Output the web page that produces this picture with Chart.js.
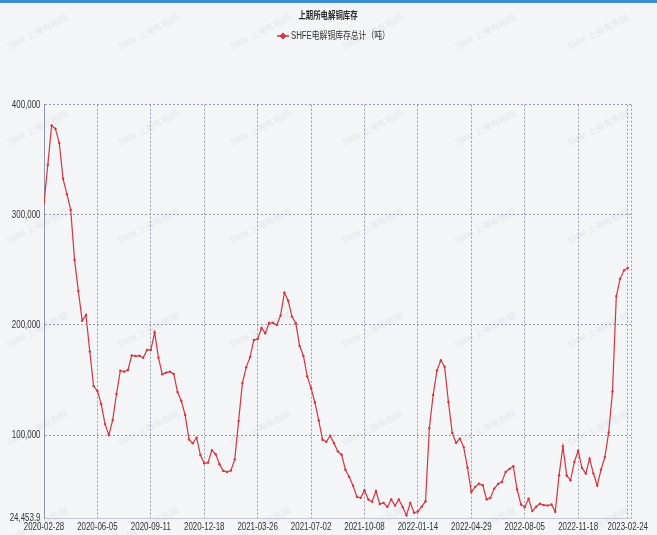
<!DOCTYPE html>
<html>
<head>
<meta charset="utf-8">
<script src="https://cdn.jsdelivr.net/npm/chart.js@4/dist/chart.umd.min.js"></script>
<style>
  html, body { margin: 0; padding: 0; background: #f4f5f7; }
  #wrap { width: 657px; height: 535px; position: relative; }
</style>
</head>
<body>
<div id="wrap"><canvas id="c" width="657" height="535"></canvas></div>
<script>
// ---- data ----
const chartTitle = '上期所电解铜库存';
const seriesName = 'SHFE电解铜库存总计（吨）';
const tickLabels = ['2020-02-28','2020-06-05','2020-09-11','2020-12-18','2021-03-26','2021-07-02',
                    '2021-10-08','2022-01-14','2022-04-29','2022-08-05','2022-11-18','2023-02-24'];
const tickIndex = [0,14,28,42,56,70,84,98,112,126,140,153];
const yTicks = [24453.9, 100000, 200000, 300000, 400000];
const inventory = [
  310600,345500,381200,378200,365200,332700,318800,304500,259100,230900,
  203900,209100,175800,144500,140000,128200,110000,100000,113600,137300,
  158500,157600,159100,172400,171800,172100,170300,177300,177300,193300,
  170300,155200,156700,157600,155500,139100,130900,118200,96100,92500,
  97600,81900,74400,75000,86400,82500,73500,67500,66600,67800,
  78000,112700,147300,161700,170800,186400,187300,197300,192500,201800,
  202000,200000,208500,229300,222000,207600,201500,181000,171900,153200,
  142600,129600,113300,95800,94000,99400,92700,85200,82200,68600,
  61900,54100,44000,43000,50000,41500,39500,49200,37500,38500,
  34800,41500,36000,41500,34700,27171,38500,29500,30600,35100,
  40000,106500,136500,158800,168000,162000,130000,102000,93000,96800,
  89100,70300,48300,53000,55800,54500,41600,43000,51400,55700,
  57500,66600,69300,71700,50600,37000,34600,42200,31000,34900,
  37700,36400,36100,37000,30400,63600,89800,63300,59000,75600,
  85800,70200,65100,78600,65100,54200,68700,80100,102400,139500,
  226200,241900,249400,251800
];

const RED = '#d6343f';
const GRID = 'rgba(128,134,158,0.8)';
const LATIN = "'Liberation Sans', Arial, sans-serif";
const CJK = "'Liberation Sans', 'Noto Sans CJK SC', sans-serif";
const SQUEEZE = 0.72;

function squeezedText(ctx, text, x, y, align, font, color, sx) {
  ctx.save();
  ctx.font = font; ctx.fillStyle = color;
  ctx.textBaseline = 'middle';
  const w = ctx.measureText(text).width * sx;
  let left = x;
  if (align === 'center') left = x - w / 2;
  else if (align === 'right') left = x - w;
  ctx.translate(left, y);
  ctx.scale(sx, 1);
  ctx.textAlign = 'left';
  ctx.fillText(text, 0, 0);
  ctx.restore();
  return w;
}

const decor = {
  id: 'decor',
  beforeDraw(chart) {
    const ctx = chart.ctx;
    ctx.save();
    ctx.fillStyle = '#f4f5f7';
    ctx.fillRect(0, 0, chart.width, chart.height);
    ctx.fillStyle = '#3a8ed6';
    ctx.fillRect(0, 0, chart.width, 3);
    // watermarks
    ctx.font = "9px 'Noto Sans CJK SC', sans-serif";
    ctx.fillStyle = 'rgba(170,176,192,0.22)';
    ctx.textAlign = 'center'; ctx.textBaseline = 'middle';
    const xs = [37, 148, 260, 372, 485, 598];
    const ys = [32, 128, 226, 330, 428, 525];
    for (const y of ys) for (const x of xs) {
      ctx.save(); ctx.translate(x, y); ctx.rotate(-0.47);
      ctx.fillText('SMM 上海有色网', 0, 0);
      ctx.restore();
    }
    ctx.restore();
  },
  afterDraw(chart) {
    const ctx = chart.ctx;
    const xs = chart.scales.x, ys = chart.scales.y;
    // title
    squeezedText(ctx, chartTitle, 328, 15.5, 'center', "bold 10px 'Noto Sans CJK SC', sans-serif", '#2a2a2a', 0.74);
    // legend
    const lx = 277, ly = 36;
    ctx.save();
    ctx.strokeStyle = RED; ctx.lineWidth = 1.5;
    ctx.beginPath(); ctx.moveTo(lx, ly); ctx.lineTo(lx + 12, ly); ctx.stroke();
    ctx.fillStyle = RED;
    ctx.beginPath(); ctx.moveTo(lx + 6, ly - 3.5); ctx.lineTo(lx + 9.5, ly); ctx.lineTo(lx + 6, ly + 3.5); ctx.lineTo(lx + 2.5, ly); ctx.closePath(); ctx.fill();
    ctx.restore();
    squeezedText(ctx, seriesName, lx + 14, ly, 'left', "10px " + CJK, '#333', 0.78);
    // y tick labels
    yTicks.forEach(v => {
      const y = ys.getPixelForValue(v);
      squeezedText(ctx, v.toLocaleString('en-US', { maximumFractionDigits: 1 }), 40.5, y, 'right', "11px " + LATIN, '#333', SQUEEZE);
    });
    // x tick labels
    tickIndex.forEach((idx, k) => {
      const x = xs.getPixelForValue(idx);
      squeezedText(ctx, tickLabels[k], x, 527, 'center', "11px " + LATIN, '#333', SQUEEZE);
    });
  }
};

new Chart(document.getElementById('c'), {
  type: 'line',
  data: {
    datasets: [{
      label: seriesName,
      data: inventory.map((v, i) => ({ x: i, y: v })),
      borderColor: RED,
      backgroundColor: RED,
      borderWidth: 1.2,
      pointRadius: 1.2,
      pointHoverRadius: 2,
      pointBorderWidth: 0,
      pointStyle: 'circle',
      tension: 0
    }]
  },
  options: {
    responsive: false,
    animation: false,
    layout: { padding: { left: 44, right: 26, top: 104.7, bottom: 16.7 } },
    plugins: {
      title: { display: false },
      legend: { display: false },
      tooltip: { enabled: false }
    },
    scales: {
      x: {
        type: 'linear', min: 0, max: 153.85,
        afterBuildTicks: (s) => { s.ticks = tickIndex.map(v => ({ value: v })).concat([{ value: 153.85 }]); },
        ticks: { display: false },
        grid: { color: GRID, lineWidth: 1, drawTicks: false },
        border: { display: true, color: '#c4c8d4', width: 1, dash: [2, 2] }
      },
      y: {
        type: 'linear', min: 24453.9, max: 400000,
        afterBuildTicks: (s) => { s.ticks = yTicks.map(v => ({ value: v })); },
        ticks: { display: false },
        grid: {
          color: (c) => (c.tick && c.tick.value === 24453.9) ? 'rgba(0,0,0,0)' : GRID,
          lineWidth: 1, drawTicks: false
        },
        border: { display: true, color: GRID, width: 1, dash: [2, 2] }
      }
    }
  },
  plugins: [decor]
});
</script>
</body>
</html>
